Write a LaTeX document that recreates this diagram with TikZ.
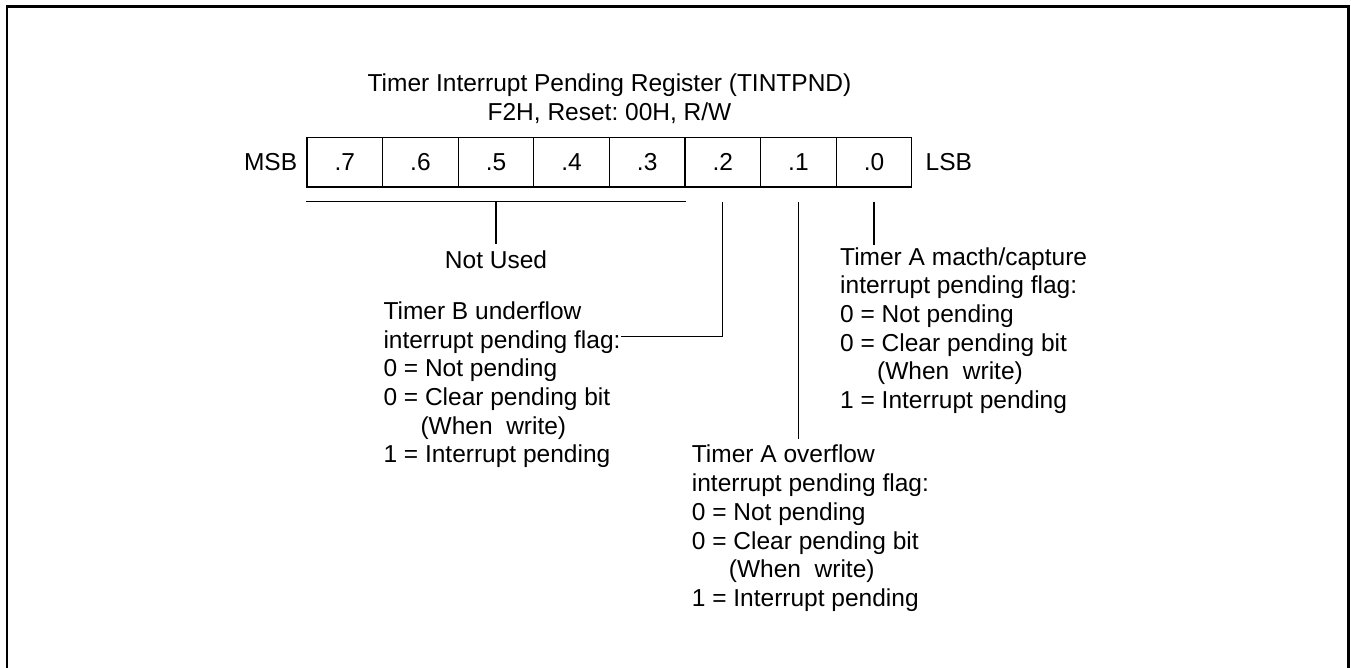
\documentclass[tikz,border=0pt]{standalone}
\usepackage{fontspec}
\setmainfont{Liberation Sans}
\frenchspacing
\usetikzlibrary{positioning,calc}

\begin{document}
\begin{tikzpicture}[
    x=1pt, y=-1pt,
    every node/.style={inner sep=0pt, font=\fontsize{24.5}{28.7}\selectfont},
    bitcell/.style={draw, line width=1.3pt, minimum width=75.6pt, minimum height=49.5pt},
    flagtext/.style={anchor=north west, align=left},
    link/.style={line width=1.3pt}
  ]
  \useasboundingbox (0,0) rectangle (1351,668);
  % outer frame, open at the bottom
  \draw[line width=2.5pt] (7,690) -- (7,6.5) -- (1348.5,6.5) -- (1348.5,690);

  \node[anchor=north, align=center] (title) at (609.5,73.8)
    {Timer Interrupt Pending Register (TINTPND)\\F2H, Reset: 00H, R/W};

  % register bits
  \foreach \b [count=\i from 0] in {7,6,...,0}
    \node[bitcell] (b\b) at (307+75.6*\i+37.8,162.25) {.\b};
  \node[left=9pt of b7] (msb) {MSB};
  \node[right=13pt of b0] (lsb) {LSB};

  % bits 7..3
  \path ([yshift=-14pt]b7.south west) coordinate (nul)
        ([yshift=-14pt]b3.south east) coordinate (nur);
  \coordinate (numid) at ($(nul)!0.5!(nur)$);
  \node[below=49pt of numid] (notused) {Not Used};
  \draw[link] (nul) -- (nur);
  \draw[link, shorten >=7pt] (numid) -- (notused);

  % bit 2
  \node[flagtext] (tmrb) at (383.3,301.4)
    {Timer B underflow\\interrupt pending flag:\\0 = Not pending\\0 = Clear pending bit\\\hspace*{37pt}(When~ write)\\1 = Interrupt pending};
  \draw[link] ([yshift=-14pt]b2.south) |- ([yshift=-35.3pt]tmrb.north east);

  % bit 1
  \node[flagtext] (tmrao) at (691.7,445)
    {Timer A overflow\\interrupt pending flag:\\0 = Not pending\\0 = Clear pending bit\\\hspace*{37pt}(When~ write)\\1 = Interrupt pending};
  \draw[link, shorten >=6pt] ([yshift=-14pt]b1.south) -- (b1.south |- tmrao.north);

  % bit 0
  \node[flagtext] (tmram) at (840,247.1)
    {Timer A macth/capture\\interrupt pending flag:\\0 = Not pending\\0 = Clear pending bit\\\hspace*{37pt}(When~ write)\\1 = Interrupt pending};
  \draw[link, shorten >=2pt] ([yshift=-14pt]b0.south) -- (b0.south |- tmram.north);
\end{tikzpicture}
\end{document}
